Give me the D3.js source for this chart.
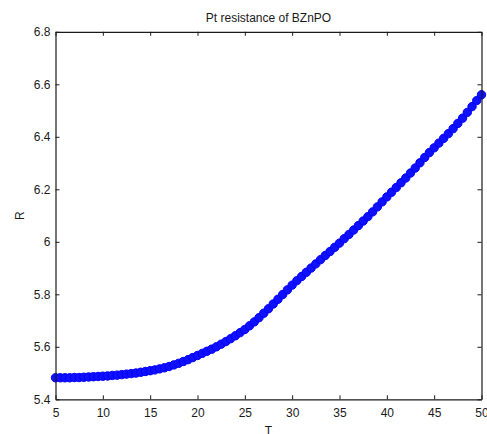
<!DOCTYPE html>
<html>
<head>
<meta charset="utf-8">
<script src="https://cdn.jsdelivr.net/npm/d3@7"></script>
<style>
  html, body { margin: 0; padding: 0; background: #fff; }
  svg { display: block; }
  text { font-family: "Liberation Sans", Arial, sans-serif; fill: #1a1a1a; }
</style>
</head>
<body>
<svg id="chart" width="487" height="434"></svg>
<script>
// Temperature (T) and measured Pt resistance (R)
const temperature = [
  5, 5.5, 6, 6.5, 7, 7.5, 8, 8.5, 9, 9.5,
  10, 10.5, 11, 11.5, 12, 12.5, 13, 13.5, 14, 14.5,
  15, 15.5, 16, 16.5, 17, 17.5, 18, 18.5, 19, 19.5,
  20, 20.5, 21, 21.5, 22, 22.5, 23, 23.5, 24, 24.5,
  25, 25.5, 26, 26.5, 27, 27.5, 28, 28.5, 29, 29.5,
  30, 30.5, 31, 31.5, 32, 32.5, 33, 33.5, 34, 34.5,
  35, 35.5, 36, 36.5, 37, 37.5, 38, 38.5, 39, 39.5,
  40, 40.5, 41, 41.5, 42, 42.5, 43, 43.5, 44, 44.5,
  45, 45.5, 46, 46.5, 47, 47.5, 48, 48.5, 49, 49.5,
  50
];
const resistance = [
  5.482, 5.482, 5.482, 5.482, 5.483, 5.483, 5.484, 5.485, 5.486, 5.487,
  5.488, 5.489, 5.491, 5.492, 5.494, 5.496, 5.498, 5.500, 5.503, 5.506,
  5.509, 5.512, 5.516, 5.520, 5.525, 5.531, 5.537, 5.544, 5.551, 5.559,
  5.567, 5.575, 5.583, 5.591, 5.600, 5.610, 5.620, 5.631, 5.642, 5.654,
  5.666, 5.680, 5.695, 5.711, 5.728, 5.745, 5.763, 5.781, 5.799, 5.817,
  5.835, 5.852, 5.868, 5.884, 5.900, 5.916, 5.932, 5.948, 5.963, 5.979,
  5.995, 6.012, 6.028, 6.045, 6.062, 6.079, 6.096, 6.114, 6.133, 6.152,
  6.171, 6.189, 6.207, 6.225, 6.243, 6.262, 6.281, 6.301, 6.321, 6.340,
  6.358, 6.376, 6.394, 6.412, 6.431, 6.451, 6.471, 6.493, 6.515, 6.538,
  6.560
];
const xTicks = [5, 10, 15, 20, 25, 30, 35, 40, 45, 50];
const yTicks = [5.4, 5.6, 5.8, 6, 6.2, 6.4, 6.6, 6.8];
const xDomain = [5, 50];
const yDomain = [5.4, 6.8];

const svg = d3.select("#chart");
const box = { left: 55.5, right: 481.5, top: 31.8, bottom: 399.3 };

const x = d3.scaleLinear().domain(xDomain).range([box.left, box.right]);
const y = d3.scaleLinear().domain(yDomain).range([box.bottom, box.top]);

const tickLen = 4;
const axisColor = "#1a1a1a";
const fontSize = 12;

// plot data as circle markers
const points = temperature.map((t, i) => ({ t, r: resistance[i] }));
svg.append("g")
  .selectAll("circle")
  .data(points)
  .join("circle")
  .attr("cx", d => x(d.t))
  .attr("cy", d => y(d.r))
  .attr("r", 4.2)
  .attr("fill", "#1010ff")
  .attr("stroke", "#0000ff")
  .attr("stroke-width", 1);

// bottom axis with inward ticks
const xAxis = svg.append("g")
  .attr("transform", `translate(0,${box.bottom})`)
  .call(d3.axisBottom(x).tickValues(xTicks).tickSizeInner(-tickLen).tickSizeOuter(0).tickPadding(9)
    .tickFormat(d3.format("d")));
// top axis (ticks only)
const xAxisTop = svg.append("g")
  .attr("transform", `translate(0,${box.top})`)
  .call(d3.axisTop(x).tickValues(xTicks).tickSizeInner(-tickLen).tickSizeOuter(0).tickFormat(""));
// left axis with inward ticks
const yAxis = svg.append("g")
  .attr("transform", `translate(${box.left},0)`)
  .call(d3.axisLeft(y).tickValues(yTicks).tickSizeInner(-tickLen).tickSizeOuter(0).tickPadding(5)
    .tickFormat(d => d3.format("")(+d.toFixed(1))));
// right axis (ticks only)
const yAxisRight = svg.append("g")
  .attr("transform", `translate(${box.right},0)`)
  .call(d3.axisRight(y).tickValues(yTicks).tickSizeInner(-tickLen).tickSizeOuter(0).tickFormat(""));

[xAxis, xAxisTop, yAxis, yAxisRight].forEach(g => {
  g.select(".domain").attr("stroke", axisColor).attr("stroke-width", 1.2);
  g.selectAll(".tick line").attr("stroke", axisColor).attr("stroke-width", 1);
  g.selectAll(".tick text")
    .attr("font-family", "Liberation Sans, Arial, sans-serif")
    .attr("font-size", fontSize)
    .attr("fill", "#1a1a1a");
});

// axis labels and title
svg.append("text")
  .attr("x", (box.left + box.right) / 2)
  .attr("y", 434.5)
  .attr("text-anchor", "middle")
  .attr("font-size", fontSize)
  .text("T");

svg.append("text")
  .attr("transform", `translate(24,${(box.top + box.bottom) / 2}) rotate(-90)`)
  .attr("text-anchor", "middle")
  .attr("font-size", fontSize)
  .text("R");

svg.append("text")
  .attr("x", (box.left + box.right) / 2)
  .attr("y", 21.5)
  .attr("text-anchor", "middle")
  .attr("font-size", fontSize)
  .text("Pt resistance of BZnPO");
</script>
</body>
</html>
